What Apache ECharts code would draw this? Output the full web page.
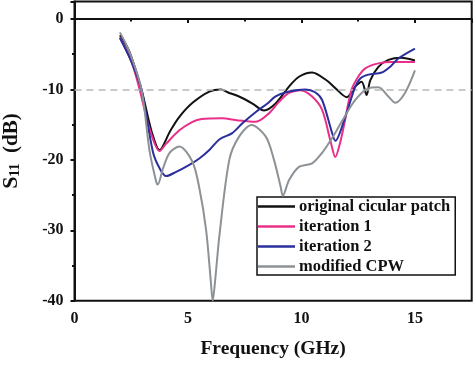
<!DOCTYPE html>
<html>
<head>
<meta charset="utf-8">
<script src="https://cdn.jsdelivr.net/npm/echarts@6/dist/echarts.min.js"></script>
<style>html,body{margin:0;padding:0;background:#fff;}#c{width:474px;height:380px;}</style>
</head>
<body>
<div id="c"></div>
<script>
const seriesNames = ['original cicular patch', 'iteration 1', 'iteration 2', 'modified CPW'];
const xTicks = [0, 5, 10, 15];
const yTicks = [-40, -30, -20, -10, 0];
const refLevel = -10;

const fBlack = [2.0,2.4,2.95,3.4,3.75,4.2,4.62,5.2,5.94,6.45,6.82,7.25,7.84,8.35,8.86,9.45,9.89,10.47,11.1,11.5,12.0,12.37,12.65,12.87,13.03,13.39,13.83,14.4,15.0];
const sBlack = [-2.3,-4.5,-10,-16,-18.6,-16,-13.9,-11.9,-10.3,-10.0,-10.5,-11.0,-12.0,-13.0,-12.0,-9.6,-8.2,-7.6,-8.7,-9.85,-11.1,-9.6,-8.9,-10.8,-8.7,-6.8,-5.8,-5.5,-5.9];

const fMag = [2.0,2.5,2.87,3.3,3.75,4.04,4.62,5.2,5.6,6.5,7.2,7.99,8.57,9.0,9.45,9.96,10.47,10.91,11.3,11.49,11.7,11.86,12.2,12.5,12.81,13.39,14.0,15.0];
const sMag = [-2.6,-6,-10,-15.5,-18.75,-17.7,-15.8,-14.6,-14.2,-14.1,-14.4,-14.6,-13.4,-11.8,-10.5,-10.1,-11.0,-12.9,-17.6,-19.6,-17.6,-15.3,-10.1,-8.2,-7.0,-6.3,-6.1,-6.1];

const fBlue = [2.0,2.5,2.95,3.45,3.75,4.04,4.48,5.06,5.5,5.94,6.38,6.95,7.4,7.99,8.5,8.86,9.45,10.18,10.6,10.91,11.35,11.49,11.93,12.37,12.6,12.95,13.54,13.9,14.27,15.0];
const sBlue = [-2.7,-6,-10,-18.8,-21.2,-22.3,-21.7,-20.7,-19.8,-18.6,-17.1,-16.2,-14.8,-13.2,-12.0,-11.0,-10.3,-10.0,-10.4,-11.5,-16.2,-17.3,-13.9,-9.6,-8.4,-7.9,-7.6,-6.8,-5.6,-4.2];

const fGray = [2.0,2.4,2.95,3.31,3.6,3.67,3.9,4.19,4.62,5.2,5.5,5.8,6.0,6.09,6.2,6.38,6.82,7.25,7.8,8.43,8.79,9.08,9.18,9.45,9.89,10.47,10.91,11.35,11.77,12.37,12.95,13.39,13.83,14.13,14.56,15.0];
const sGray = [-1.9,-4.5,-10,-18.8,-23.1,-23.5,-21.2,-19.0,-18.1,-20.3,-24,-30,-37,-40,-37,-30.9,-20,-16.7,-15.06,-16.7,-20,-23.8,-25.1,-22.9,-21,-20.5,-19.0,-16.9,-14.6,-11.5,-9.85,-9.7,-11.0,-11.9,-10.5,-7.3];

const colors = ['#111111', '#e8308a', '#2a2f9c', '#8c9296'];
const zip = (a, b) => a.map((v, i) => [v, b[i]]);
const dataSets = [zip(fBlack, sBlack), zip(fMag, sMag), zip(fBlue, sBlue), zip(fGray, sGray)];

const serif = '"Liberation Serif", "DejaVu Serif", serif';
const chart = echarts.init(document.getElementById('c'), null, {renderer: 'canvas'});

const series = dataSets.map((d, i) => ({
  name: seriesNames[i],
  type: 'line',
  data: d,
  smooth: 0.3,
  symbol: 'none',
  lineStyle: {color: colors[i], width: 2},
  itemStyle: {color: colors[i]},
  z: 3 + i
}));
series[0].markLine = {
  silent: true,
  symbol: 'none',
  label: {show: false},
  lineStyle: {color: '#b8b8b8', type: [7, 5], width: 1.5},
  data: [{yAxis: refLevel}]
};

chart.setOption({
  animation: false,
  grid: {left: 74.5, right: 2.3, top: 1.4, bottom: 79.3, show: true, borderColor: '#111', borderWidth: 2, containLabel: false, outerBoundsMode: 'none'},
  legend: {
    data: seriesNames,
    orient: 'vertical',
    left: 257,
    top: 197,
    icon: 'rect',
    itemWidth: 37,
    itemHeight: 2.5,
    itemGap: 3,
    padding: [1, 5, 0, 1],
    borderColor: '#111',
    borderWidth: 1.5,
    backgroundColor: '#fff',
    textStyle: {fontFamily: serif, fontWeight: 'bold', fontSize: 16.5, color: '#111', lineHeight: 16, padding: [0, 0, 0, -1]}
  },
  xAxis: {
    type: 'value',
    min: 0, max: 17.5, interval: 5,
    name: 'Frequency (GHz)',
    nameLocation: 'middle',
    nameGap: 38,
    nameTextStyle: {fontFamily: serif, fontWeight: 'bold', fontSize: 19.5, color: '#111'},
    axisLine: {lineStyle: {color: '#111', width: 2}},
    axisTick: {show: true, inside: false, length: 4, lineStyle: {color: '#111', width: 2}},
    minorTick: {show: true, splitNumber: 2, length: 2.5, lineStyle: {color: '#111', width: 2}},
    axisLabel: {showMaxLabel: false, fontFamily: serif, fontWeight: 'bold', fontSize: 16, color: '#111', margin: 10},
    splitLine: {show: false}
  },
  yAxis: {
    type: 'value',
    min: -40, max: 2.5, interval: 10,
    name: '{s|S}{sub|11}{p|  (dB)}',
    nameLocation: 'middle',
    nameRotate: 90,
    nameGap: 52,
    nameTextStyle: {
      color: '#111',
      rich: {
        s: {fontFamily: serif, fontWeight: 'bold', fontSize: 22, color: '#111'},
        sub: {fontFamily: serif, fontWeight: 'bold', fontSize: 14, color: '#111', verticalAlign: 'bottom', padding: [8, 0, 0, 0]},
        p: {fontFamily: serif, fontWeight: 'bold', fontSize: 21, color: '#111'}
      }
    },
    axisLine: {lineStyle: {color: '#111', width: 2}},
    axisTick: {show: true, inside: false, length: 4, lineStyle: {color: '#111', width: 2}},
    minorTick: {show: true, splitNumber: 2, length: 2.5, lineStyle: {color: '#111', width: 2}},
    axisLabel: {showMaxLabel: false, fontFamily: serif, fontWeight: 'bold', fontSize: 16, color: '#111', margin: 11},
    splitLine: {show: false}
  },
  series: series
});
</script>
</body>
</html>
